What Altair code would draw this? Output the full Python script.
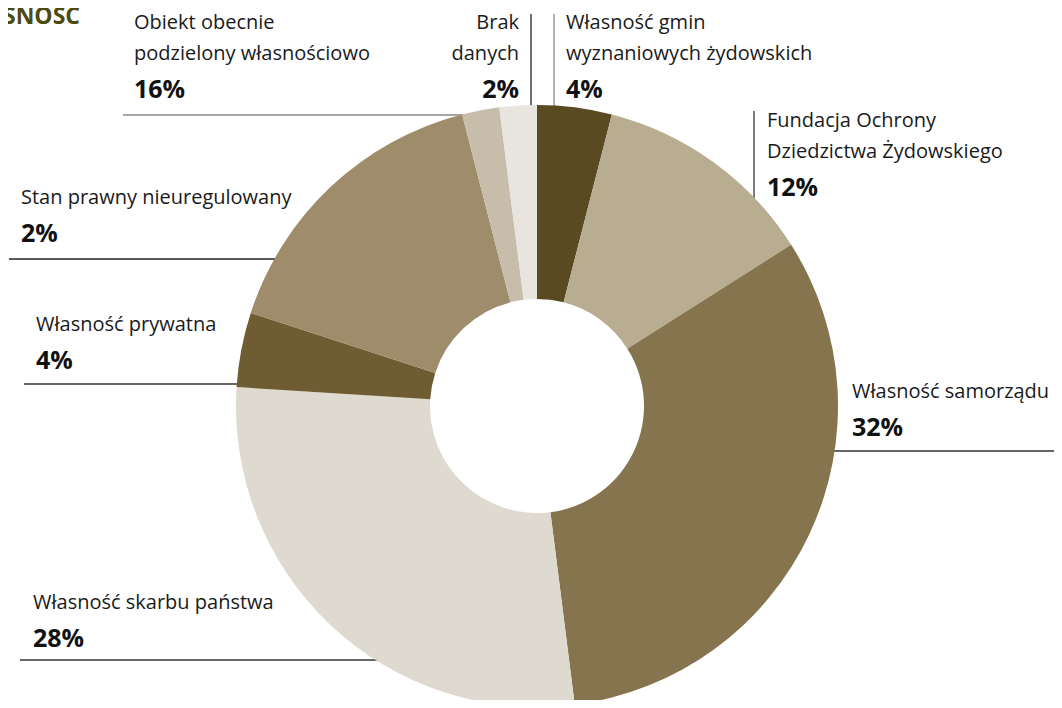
import altair as alt
import pandas as pd

# ---- data (clockwise from 12 o'clock) ----
categories = [
    "Własność gmin wyznaniowych żydowskich",
    "Fundacja Ochrony Dziedzictwa Żydowskiego",
    "Własność samorządu",
    "Własność skarbu państwa",
    "Własność prywatna",
    "Obiekt obecnie podzielony własnościowo",
    "Stan prawny nieuregulowany",
    "Brak danych",
]
values = [4, 12, 32, 28, 4, 16, 2, 2]
colors = ["#5a4a22", "#b8ad90", "#85744e", "#dedad0", "#6f5c32", "#9e8c6a", "#c8bcaa", "#e8e4de"]

# label texts as printed in the reference
label_line1 = ["Własność gmin", "Fundacja Ochrony", "Własność samorządu", "Własność skarbu państwa",
               "Własność prywatna", "Obiekt obecnie", "Stan prawny nieuregulowany", "Brak"]
label_line2 = ["wyznaniowych żydowskich", "Dziedzictwa Żydowskiego", "", "",
               "", "podzielony własnościowo", "", "danych"]
label_pct = ["4%", "12%", "32%", "28%", "4%", "16%", "2%", "2%"]

title_text = "WŁASNOŚĆ"

df = pd.DataFrame({"cat": categories, "val": values, "idx": list(range(len(values)))})

# ---- layout (chart pixel coordinates = page - 8) ----
OFF = 8
CX, CY = 537 - OFF, 406 - OFF
R_OUT, R_IN = 301, 107
FONT = "Open Sans"
FS = 20
FS_PCT = 25
LINE_GAP = 31
PCT_GAP = 38

# (x, baseline of line1, align)  -- page coordinates
label_pos = [
    (566, 29, "left"),
    (767, 127, "left"),
    (852, 398, "left"),
    (33, 609, "left"),
    (36, 331, "left"),
    (134, 29, "left"),
    (21, 204, "left"),
    (519, 29, "right"),
]
# rules: (x1, y1, x2, y2, color) -- page coordinates
rules = [
    (554, 14, 554, 110, "#8a8a8a"),
    (754, 111, 754, 205, "#333333"),
    (830, 451, 1054, 451, "#333333"),
    (20, 660, 380, 660, "#333333"),
    (24, 384, 250, 384, "#333333"),
    (123, 115, 480, 115, "#8a8a8a"),
    (9, 259, 290, 259, "#222222"),
    (531, 14, 531, 110, "#222222"),
]

layers = []
for (x1, y1, x2, y2, c) in rules:
    layers.append(
        alt.Chart(df.head(1)).mark_rule(color=c, strokeWidth=1.3).encode(
            x=alt.value(x1 - OFF), x2=alt.value(x2 - OFF),
            y=alt.value(y1 - OFF), y2=alt.value(y2 - OFF),
        )
    )

donut = alt.Chart(df).mark_arc(outerRadius=R_OUT, innerRadius=R_IN, stroke=None).encode(
    theta=alt.Theta("val:Q", stack=True),
    order=alt.Order("idx:Q", sort="ascending"),
    color=alt.Color("cat:N", scale=alt.Scale(domain=categories, range=colors), legend=None),
    x=alt.value(CX),
    y=alt.value(CY),
)
layers.append(donut)

for i, (lx, ly, al) in enumerate(label_pos):
    lines = [label_line1[i]] + ([label_line2[i]] if label_line2[i] else [])
    for j, t in enumerate(lines):
        layers.append(
            alt.Chart(df.head(1)).mark_text(
                text=t, align=al, baseline="alphabetic", font=FONT, fontSize=FS, color="#1a1a1a"
            ).encode(x=alt.value(lx - OFF), y=alt.value(ly + LINE_GAP * j - OFF))
        )
    pct_y = ly + LINE_GAP * (len(lines) - 1) + PCT_GAP
    layers.append(
        alt.Chart(df.head(1)).mark_text(
            text=label_pct[i], align=al, baseline="alphabetic", font=FONT, fontSize=FS_PCT,
            fontWeight="bold", color="#111111"
        ).encode(x=alt.value(lx - OFF), y=alt.value(pct_y - OFF))
    )

layers.append(
    alt.Chart(df.head(1)).mark_text(
        text=title_text, align="right", baseline="alphabetic", font=FONT, fontSize=23,
        fontWeight="bold", color="#4d4a10"
    ).encode(x=alt.value(80 - OFF), y=alt.value(24 - OFF))
)

chart = alt.layer(*layers).properties(
    width=1046, height=692, padding=0, autosize=alt.AutoSizeParams(type="none")
).configure_view(stroke=None)

chart.save("out.html", embed_options={"renderer": "svg", "actions": False})
